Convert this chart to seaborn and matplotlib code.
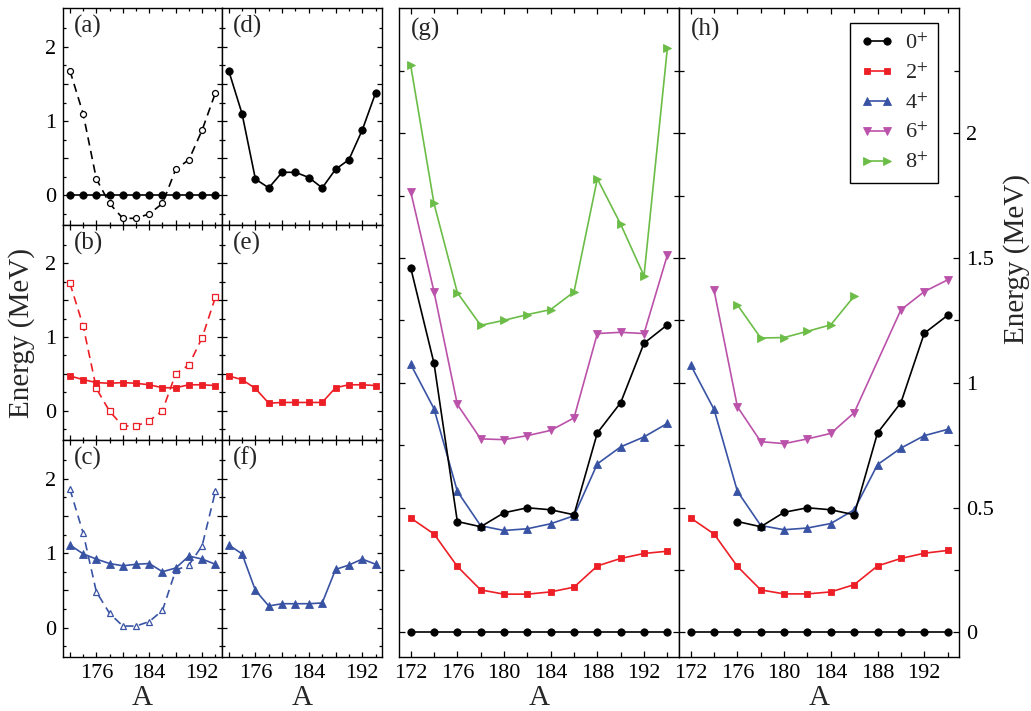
import matplotlib
matplotlib.use("Agg")
import matplotlib.pyplot as plt
from matplotlib.ticker import FixedLocator, FuncFormatter
import pandas as pd
import seaborn as sns

# ---------------------------------------------------------------- data
mass_number = [172, 174, 176, 178, 180, 182, 184, 186, 188, 190, 192, 194]

# (a)-(c): open symbols = dashed curves, filled symbols = solid curves
a_open = [1.68, 1.10, 0.22, -0.11, -0.31, -0.31, -0.25, -0.11, 0.35, 0.48, 0.88, 1.38]
a_filled = [0.0, 0.0, 0.0, 0.0, 0.0, 0.0, 0.0, 0.0, 0.0, 0.0, 0.0, 0.0]
b_open = [1.73, 1.15, 0.30, -0.01, -0.21, -0.21, -0.14, 0.00, 0.50, 0.62, 0.99, 1.54]
b_filled = [0.47, 0.42, 0.38, 0.37, 0.38, 0.37, 0.35, 0.31, 0.31, 0.35, 0.35, 0.34]
c_open = [1.86, 1.27, 0.48, 0.19, 0.02, 0.02, 0.08, 0.23, 0.77, 0.84, 1.10, 1.83]
c_filled = [1.11, 0.99, 0.92, 0.86, 0.83, 0.85, 0.86, 0.75, 0.80, 0.96, 0.92, 0.85]

# (d)-(f)
d_filled = [1.68, 1.10, 0.22, 0.10, 0.31, 0.31, 0.24, 0.10, 0.35, 0.48, 0.88, 1.38]
e_filled = [0.47, 0.42, 0.30, 0.10, 0.11, 0.11, 0.11, 0.11, 0.31, 0.35, 0.35, 0.34]
f_filled = [1.11, 0.99, 0.50, 0.29, 0.32, 0.32, 0.32, 0.33, 0.78, 0.84, 0.92, 0.85]

# (g)
g_0_ground = [0.0, 0.0, 0.0, 0.0, 0.0, 0.0, 0.0, 0.0, 0.0, 0.0, 0.0, 0.0]
g_2 = [0.458, 0.394, 0.264, 0.170, 0.153, 0.153, 0.162, 0.181, 0.266, 0.296, 0.316, 0.325]
g_4 = [1.074, 0.896, 0.565, 0.427, 0.408, 0.415, 0.435, 0.467, 0.675, 0.743, 0.783, 0.837]
g_6 = [1.766, 1.365, 0.913, 0.775, 0.772, 0.788, 0.809, 0.859, 1.197, 1.202, 1.197, 1.511]
g_8 = [2.272, 1.718, 1.361, 1.230, 1.250, 1.273, 1.293, 1.364, 1.817, 1.635, 1.428, 2.339]
g_0_excited = [1.461, 1.078, 0.444, 0.423, 0.479, 0.499, 0.491, 0.471, 0.799, 0.920, 1.158, 1.232]

# (h)  (None = no value for that nucleus)
h_0_ground = [0.0, 0.0, 0.0, 0.0, 0.0, 0.0, 0.0, 0.0, 0.0, 0.0, 0.0, 0.0]
h_2 = [0.458, 0.394, 0.264, 0.170, 0.154, 0.154, 0.162, 0.191, 0.266, 0.296, 0.317, 0.328]
h_4 = [1.071, 0.893, 0.565, 0.428, 0.411, 0.418, 0.436, 0.491, 0.672, 0.738, 0.788, 0.813]
h_6 = [None, 1.371, 0.904, 0.764, 0.756, 0.775, 0.797, 0.880, None, 1.292, 1.365, 1.412]
h_8 = [None, None, 1.312, 1.179, 1.181, 1.206, 1.232, 1.347, None, None, None, None]
h_0_excited = [None, None, 0.444, 0.423, 0.481, 0.499, 0.491, 0.471, 0.799, 0.920, 1.198, 1.270]

spin_labels = [r"0$^{+}$", r"2$^{+}$", r"4$^{+}$", r"6$^{+}$", r"8$^{+}$"]
panel_tags = ["(a)", "(b)", "(c)", "(d)", "(e)", "(f)", "(g)", "(h)"]

# ---------------------------------------------------------------- style
BLACK = "#000000"
RED = "#ed1f26"
BLUE = "#3953a4"
MAGENTA = "#bb52aa"
GREEN = "#6cbd47"

sns.set_theme(style="ticks")
plt.rcParams["font.family"] = ["Liberation Serif", "DejaVu Serif"]
plt.rcParams["mathtext.fontset"] = "stix"
plt.rcParams["axes.linewidth"] = 1.0
plt.rcParams["axes.edgecolor"] = "black"
plt.rcParams["xtick.color"] = "black"
plt.rcParams["ytick.color"] = "black"

W, H = 1031, 711
fig = plt.figure(figsize=(W / 100, H / 100), dpi=100)


def axes_px(x0, y0, x1, y1):
    return fig.add_axes([x0 / W, 1 - y1 / H, (x1 - x0) / W, (y1 - y0) / H])


def curve(ax, values, color, marker, ms, dashed=False, hollow=False):
    df = pd.DataFrame({"A": mass_number, "E": values}).dropna()
    sns.lineplot(
        data=df, x="A", y="E", ax=ax, color=color, marker=marker,
        markersize=ms, linewidth=1.2,
        linestyle=(0, (5, 3.3)) if dashed else "-",
        markerfacecolor="white" if hollow else color,
        markeredgecolor=color, markeredgewidth=0.9 if hollow else 0.6,
        legend=False, sort=True, estimator=None,
    )
    return ax.lines[-1]


def decorate(ax, small):
    ax.set_xlim(171, 195)
    ax.xaxis.set_major_locator(FixedLocator([172, 176, 180, 184, 188, 192]))
    ax.xaxis.set_minor_locator(FixedLocator([174, 178, 182, 186, 190, 194]))
    if small:
        ax.set_ylim(-0.4, 2.52)
        ax.yaxis.set_major_locator(FixedLocator([0, 0.5, 1, 1.5, 2]))
        ax.yaxis.set_minor_locator(FixedLocator([-0.25, 0.25, 0.75, 1.25, 1.75, 2.25]))
        ax.yaxis.set_major_formatter(FuncFormatter(
            lambda v, p: f"{round(v):d}" if abs(v - round(v)) < 1e-6 else ""))
        ax.xaxis.set_major_formatter(FuncFormatter(
            lambda v, p: f"{int(v)}" if int(round(v)) % 8 == 0 else ""))
        ax.tick_params(which="major", length=3.6)
        ax.tick_params(which="minor", length=2.0)
    else:
        ax.set_ylim(-0.1, 2.5)
        ax.yaxis.set_major_locator(FixedLocator([0, 0.5, 1, 1.5, 2]))
        ax.yaxis.set_minor_locator(FixedLocator([0.25, 0.75, 1.25, 1.75, 2.25]))
        ax.yaxis.set_major_formatter(FuncFormatter(lambda v, p: f"{v:g}"))
        ax.xaxis.set_major_formatter(FuncFormatter(lambda v, p: f"{int(v)}"))
        ax.tick_params(which="major", length=4.3)
        ax.tick_params(which="minor", length=3.4)
    ax.tick_params(which="both", direction="in", top=True, right=True,
                   width=0.9, labelsize=16, pad=5,
                   labelleft=False, labelbottom=False)
    ax.set_xlabel("")
    ax.set_ylabel("")
    for s in ax.spines.values():
        s.set_linewidth(1.0)


def tag(ax, text, dx=7.5, dy=-13):
    ax.annotate(text, xy=(0, 1), xycoords="axes fraction", xytext=(dx, dy),
                textcoords="offset points", ha="left", va="center", fontsize=18)


# ---------------------------------------------------------------- layout
rows = [(8.3, 225), (225, 440), (440, 657.3)]
ax_a = axes_px(63.3, rows[0][0], 222, rows[0][1])
ax_b = axes_px(63.3, rows[1][0], 222, rows[1][1])
ax_c = axes_px(63.3, rows[2][0], 222, rows[2][1])
ax_d = axes_px(222, rows[0][0], 382.3, rows[0][1])
ax_e = axes_px(222, rows[1][0], 382.3, rows[1][1])
ax_f = axes_px(222, rows[2][0], 382.3, rows[2][1])
ax_g = axes_px(399, 8.3, 679, 657.3)
ax_h = axes_px(679, 8.3, 959.3, 657.3)

# (a)-(c)
curve(ax_a, a_open, BLACK, "o", 4.3, dashed=True, hollow=True)
curve(ax_a, a_filled, BLACK, "o", 5.3)
curve(ax_b, b_open, RED, "s", 3.8, dashed=True, hollow=True)
curve(ax_b, b_filled, RED, "s", 4.8)
curve(ax_c, c_open, BLUE, "^", 4.6, dashed=True, hollow=True)
curve(ax_c, c_filled, BLUE, "^", 5.5)

# (d)-(f)
curve(ax_d, d_filled, BLACK, "o", 5.3)
curve(ax_e, e_filled, RED, "s", 4.8)
curve(ax_f, f_filled, BLUE, "^", 5.5)

# (g), (h)
handles = []
for ax, series in ((ax_g, (g_0_ground, g_2, g_4, g_6, g_8, g_0_excited)),
                   (ax_h, (h_0_ground, h_2, h_4, h_6, h_8, h_0_excited))):
    z0, s2, s4, s6, s8, z1 = series
    hs = [
        curve(ax, z0, BLACK, "o", 5.3),
        curve(ax, s2, RED, "s", 4.8),
        curve(ax, s4, BLUE, "^", 5.5),
        curve(ax, s6, MAGENTA, "v", 5.5),
        curve(ax, s8, GREEN, ">", 5.5),
    ]
    curve(ax, z1, BLACK, "o", 5.3)
    handles = hs

for ax in (ax_a, ax_b, ax_c, ax_d, ax_e, ax_f):
    decorate(ax, small=True)
for ax in (ax_g, ax_h):
    decorate(ax, small=False)

for ax in (ax_a, ax_b, ax_c):
    ax.tick_params(labelleft=True)
for ax in (ax_c, ax_f, ax_g, ax_h):
    ax.tick_params(labelbottom=True)
    ax.set_xlabel("A", fontsize=21, labelpad=1.5)
ax_h.tick_params(labelright=True)

for ax, t in zip((ax_a, ax_b, ax_c, ax_d, ax_e, ax_f), panel_tags[:6]):
    tag(ax, t)
tag(ax_g, panel_tags[6], dx=8.5, dy=-15)
tag(ax_h, panel_tags[7], dx=8.5, dy=-15)

leg = ax_h.legend(handles, spin_labels, loc="upper right",
                  bbox_to_anchor=(0.924, 0.977), frameon=True, fancybox=False,
                  edgecolor="black", framealpha=1, fontsize=16, numpoints=2,
                  handlelength=1.5, handletextpad=0.5, labelspacing=0.42,
                  borderpad=0.45, borderaxespad=0)
leg.get_frame().set_linewidth(1.0)

fig.text(21.5 / W, 1 - 333 / H, "Energy (MeV)", rotation=90, ha="center",
         va="center", fontsize=21)
fig.text(1017 / W, 1 - 259 / H, "Energy (MeV)", rotation=90, ha="center",
         va="center", fontsize=21)

fig.savefig("out.png", dpi=100)
